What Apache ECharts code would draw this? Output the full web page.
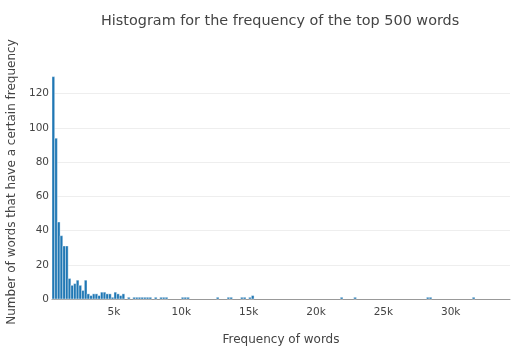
<!DOCTYPE html>
<html>
<head>
<meta charset="utf-8">
<script src="https://cdn.jsdelivr.net/npm/echarts@6/dist/echarts.min.js"></script>
<style>html,body{margin:0;padding:0;background:#fff}#c{width:514px;height:348px}</style>
</head>
<body>
<div id="c"></div>
<script>
// Bin starts (word frequency) and counts, bin width 200
const binWidth = 200;
const binStarts = [400,600,800,1000,1200,1400,1600,1800,2000,2200,2400,2600,2800,3000,3200,3400,3600,3800,4000,4200,4400,4600,4800,5000,5200,5400,5600,
  6000,6400,6600,6800,7000,7200,7400,7600,8000,8400,8600,8800,10000,10200,10400,12600,13400,13600,14400,14600,15000,15200,21800,22800,28200,28400,31600];
const counts = [130,94,45,37,31,31,12,8,9,11,8,5,11,3,2,3,3,2,4,4,3,3,1,4,3,2,3,
  1,1,1,1,1,1,1,1,1,1,1,1,1,1,1,1,1,1,1,1,1,2,1,1,1,1,1];
const xTickValues = [5000,10000,15000,20000,25000,30000];
const yTickValues = [0,20,40,60,80,100,120];

const font = 'DejaVu Sans';
const chart = echarts.init(document.getElementById('c'), null, {renderer:'canvas'});
const data = binStarts.map((s,i)=>[s, s+binWidth, counts[i]]);
chart.setOption({
  animation:false,
  title:{text:'Histogram for the frequency of the top 500 words', left:96, top:9,
    textStyle:{fontFamily:font, fontSize:14.4, fontWeight:'normal', color:'#444'}},
  grid:{left:52, right:4, top:65, bottom:49, containLabel:false, outerBoundsMode:'none'},
  xAxis:{type:'value', min:400, max:34400,
    name:'Frequency of words', nameLocation:'middle', nameGap:35,
    nameTextStyle:{fontFamily:font, fontSize:12, color:'#444'},
    axisLine:{show:true, onZero:false, lineStyle:{color:'#999'}},
    axisTick:{show:false},
    splitLine:{show:false},
    axisLabel:{customValues:xTickValues, formatter:v=>(v/1000)+'k', fontFamily:font, fontSize:10.5, color:'#444', margin:8}
  },
  yAxis:{type:'value', min:0, max:136.8,
    name:'Number of words that have a certain frequency', nameLocation:'middle', nameGap:26,
    nameTextStyle:{fontFamily:font, fontSize:12, color:'#444'},
    axisLine:{show:false}, axisTick:{show:false},
    splitLine:{show:false},
    axisLabel:{customValues:yTickValues, fontFamily:font, fontSize:10.5, color:'#444', margin:3}
  },
  series:[
    {type:'line', data:[], z:1, markLine:{silent:true, symbol:'none', label:{show:false}, z:1,
      lineStyle:{color:'#eee', width:1, type:'solid'},
      data:yTickValues.slice(1).map(v=>({yAxis:v}))}},
    {type:'custom', data:data, z:5, encode:{x:[0,1], y:2},
    renderItem:function(params, api){
      const p0 = api.coord([api.value(0), api.value(2)]);
      const p1 = api.coord([api.value(1), 0]);
      return {type:'rect', shape:{x:p0[0], y:p0[1], width:p1[0]-p0[0], height:p1[1]-p0[1]},
        style:{fill:'#1f77b4', stroke:'#fff', lineWidth:0.4}};
    }}
  ]
});
</script>
</body>
</html>
